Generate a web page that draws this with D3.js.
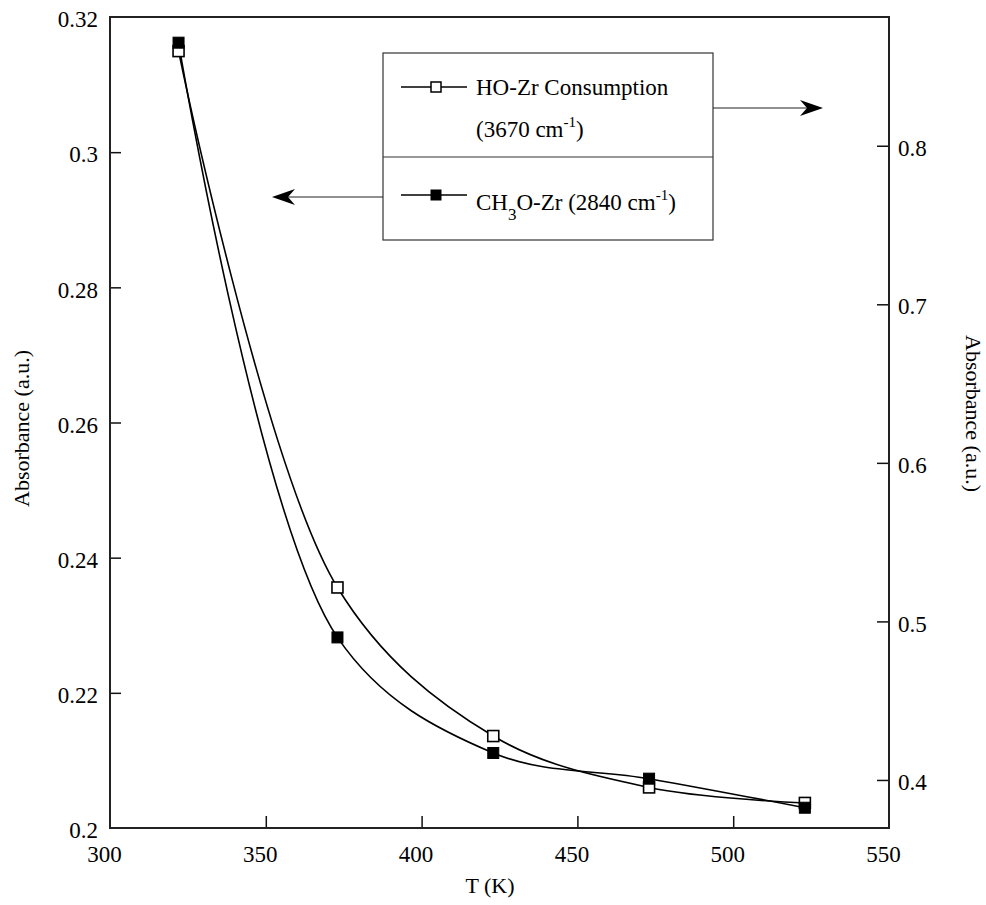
<!DOCTYPE html>
<html>
<head>
<meta charset="utf-8">
<script src="https://cdn.jsdelivr.net/npm/d3@7"></script>
<style>
  html, body { margin: 0; padding: 0; background: #fff; }
  svg { display: block; font-family: "Liberation Serif", "Times New Roman", serif; }
</style>
</head>
<body>
<svg id="chart" width="986" height="905"></svg>
<script>
// Temperature (K) of each measurement
const temps = [322, 373, 423, 473, 523];
// HO-Zr consumption band (3670 cm-1), read on the right axis
const hoZr = [0.8597, 0.5214, 0.4277, 0.3953, 0.3855];
// CH3O-Zr band (2840 cm-1), read on the left axis
const ch3oZr = [0.3162, 0.2282, 0.2111, 0.2073, 0.2030];

const xTicks = [300, 350, 400, 450, 500, 550];
const leftTicks = [0.2, 0.22, 0.24, 0.26, 0.28, 0.3, 0.32];
const rightTicks = [0.4, 0.5, 0.6, 0.7, 0.8];

const svg = d3.select("#chart");
const L = 110, R = 889, T = 17, B = 828;
const fontSize = 23;

const x = d3.scaleLinear().domain([300, 550]).range([L, R]);
const yL = d3.scaleLinear().domain([0.2, 0.32]).range([B, T]);
const yR = d3.scaleLinear().domain([0.3697, 0.8812]).range([B, T]);

function styleAxis(g) {
  g.select(".domain").remove();
  g.selectAll(".tick line").attr("stroke", "#111").attr("stroke-width", 1.5);
  g.selectAll(".tick text")
    .attr("fill", "#000")
    .style("font-family", "'Liberation Serif', 'Times New Roman', serif")
    .style("font-size", fontSize + "px");
}

// Bottom axis, ticks pointing inward
svg.append("g")
  .attr("transform", `translate(0,${B})`)
  .call(d3.axisBottom(x).tickValues(xTicks).tickSizeInner(-12).tickSizeOuter(0).tickPadding(18).tickFormat(d3.format("d")))
  .call(styleAxis)
  .call(g => g.selectAll(".tick text").attr("dx", -6))
  .call(g => g.selectAll(".tick").filter(d => d === 300 || d === 550).select("line").remove());

// Left axis
svg.append("g")
  .attr("transform", `translate(${L},0)`)
  .call(d3.axisLeft(yL).tickValues(leftTicks).tickSizeInner(-11).tickSizeOuter(0).tickPadding(12).tickFormat(d => String(+d.toFixed(2))))
  .call(styleAxis)
  .call(g => g.selectAll(".tick text").attr("dy", "0.42em"))
  .call(g => g.selectAll(".tick").filter(d => d === 0.2 || d === 0.32).select("line").remove());

// Right axis
svg.append("g")
  .attr("transform", `translate(${R},0)`)
  .call(d3.axisRight(yR).tickValues(rightTicks).tickSizeInner(-12).tickSizeOuter(0).tickPadding(9).tickFormat(d3.format(".1f")))
  .call(styleAxis)
  .call(g => g.selectAll(".tick text").attr("dy", "0.42em"));

// Plot frame
svg.append("rect")
  .attr("x", L).attr("y", T)
  .attr("width", R - L).attr("height", B - T)
  .attr("fill", "none").attr("stroke", "#222").attr("stroke-width", 2);

// Axis titles
svg.append("text")
  .attr("transform", `translate(29,${(T + B) / 2 + 6}) rotate(-90)`)
  .attr("text-anchor", "middle")
  .style("font-size", "22px")
  .text("Absorbance (a.u.)");

svg.append("text")
  .attr("transform", `translate(966,${(T + B) / 2 - 9}) rotate(90)`)
  .attr("text-anchor", "middle")
  .style("font-size", "22px")
  .text("Absorbance (a.u.)");

svg.append("text")
  .attr("x", 490).attr("y", 893)
  .attr("text-anchor", "middle")
  .style("font-size", "22px")
  .text("T (K)");

// Curves
const lineR = d3.line().x((d, i) => x(temps[i])).y(d => yR(d)).curve(d3.curveCatmullRom.alpha(0.5));
const lineL = d3.line().x((d, i) => x(temps[i])).y(d => yL(d)).curve(d3.curveCatmullRom.alpha(0.5));

svg.append("path").datum(hoZr).attr("d", lineR)
  .attr("fill", "none").attr("stroke", "#000").attr("stroke-width", 1.6);
svg.append("path").datum(ch3oZr).attr("d", lineL)
  .attr("fill", "none").attr("stroke", "#000").attr("stroke-width", 1.6);

const ms = 11;
svg.append("g").selectAll("rect").data(hoZr).join("rect")
  .attr("x", (d, i) => x(temps[i]) - ms / 2)
  .attr("y", d => yR(d) - ms / 2)
  .attr("width", ms).attr("height", ms)
  .attr("fill", "#fff").attr("stroke", "#000").attr("stroke-width", 1.6);

svg.append("g").selectAll("rect").data(ch3oZr).join("rect")
  .attr("x", (d, i) => x(temps[i]) - ms / 2)
  .attr("y", d => yL(d) - ms / 2)
  .attr("width", ms).attr("height", ms)
  .attr("fill", "#000").attr("stroke", "#000").attr("stroke-width", 1);

// Legend
const lg = { x0: 383, x1: 713, y0: 53, y1: 240, mid: 157 };
svg.append("rect")
  .attr("x", lg.x0).attr("y", lg.y0)
  .attr("width", lg.x1 - lg.x0).attr("height", lg.y1 - lg.y0)
  .attr("fill", "#fff").attr("stroke", "#333").attr("stroke-width", 1.2);
svg.append("line")
  .attr("x1", lg.x0).attr("x2", lg.x1).attr("y1", lg.mid).attr("y2", lg.mid)
  .attr("stroke", "#333").attr("stroke-width", 1.2);

// Legend entry: HO-Zr
svg.append("line").attr("x1", 401).attr("x2", 467).attr("y1", 87).attr("y2", 87)
  .attr("stroke", "#000").attr("stroke-width", 1.6);
svg.append("rect").attr("x", 436 - 5).attr("y", 87 - 5).attr("width", 10).attr("height", 10)
  .attr("fill", "#fff").attr("stroke", "#000").attr("stroke-width", 1.5);
svg.append("text").attr("x", 476).attr("y", 95).style("font-size", fontSize + "px")
  .text("HO-Zr Consumption");
const t2 = svg.append("text").attr("x", 476).attr("y", 137).style("font-size", fontSize + "px");
t2.append("tspan").text("(3670 cm");
t2.append("tspan").attr("dy", -10).style("font-size", "15px").text("-1");
t2.append("tspan").attr("dy", 10).text(")");

// Legend entry: CH3O-Zr
svg.append("line").attr("x1", 401).attr("x2", 467).attr("y1", 195).attr("y2", 195)
  .attr("stroke", "#000").attr("stroke-width", 1.6);
svg.append("rect").attr("x", 436 - 5.5).attr("y", 195 - 5.5).attr("width", 11).attr("height", 11)
  .attr("fill", "#000");
const t3 = svg.append("text").attr("x", 476).attr("y", 210).style("font-size", fontSize + "px");
t3.append("tspan").text("CH");
t3.append("tspan").attr("dy", 10).style("font-size", "17px").text("3");
t3.append("tspan").attr("dy", -10).text("O-Zr (2840 cm");
t3.append("tspan").attr("dy", -10).style("font-size", "15px").text("-1");
t3.append("tspan").attr("dy", 10).text(")");

// Arrows pointing from the legend to each series' axis
function arrow(xStart, xTip, y) {
  const dir = Math.sign(xTip - xStart);
  const headLen = 23, headHalf = 8, notch = 7;
  svg.append("line")
    .attr("x1", xStart).attr("x2", xTip - dir * (headLen - notch)).attr("y1", y).attr("y2", y)
    .attr("stroke", "#222").attr("stroke-width", 1.2);
  const p = d3.path();
  p.moveTo(xTip, y);
  p.lineTo(xTip - dir * headLen, y - headHalf);
  p.lineTo(xTip - dir * (headLen - notch), y);
  p.lineTo(xTip - dir * headLen, y + headHalf);
  p.closePath();
  svg.append("path").attr("d", p.toString()).attr("fill", "#000");
}
arrow(lg.x1, 823, 108);
arrow(lg.x0, 272, 197);
</script>
</body>
</html>
